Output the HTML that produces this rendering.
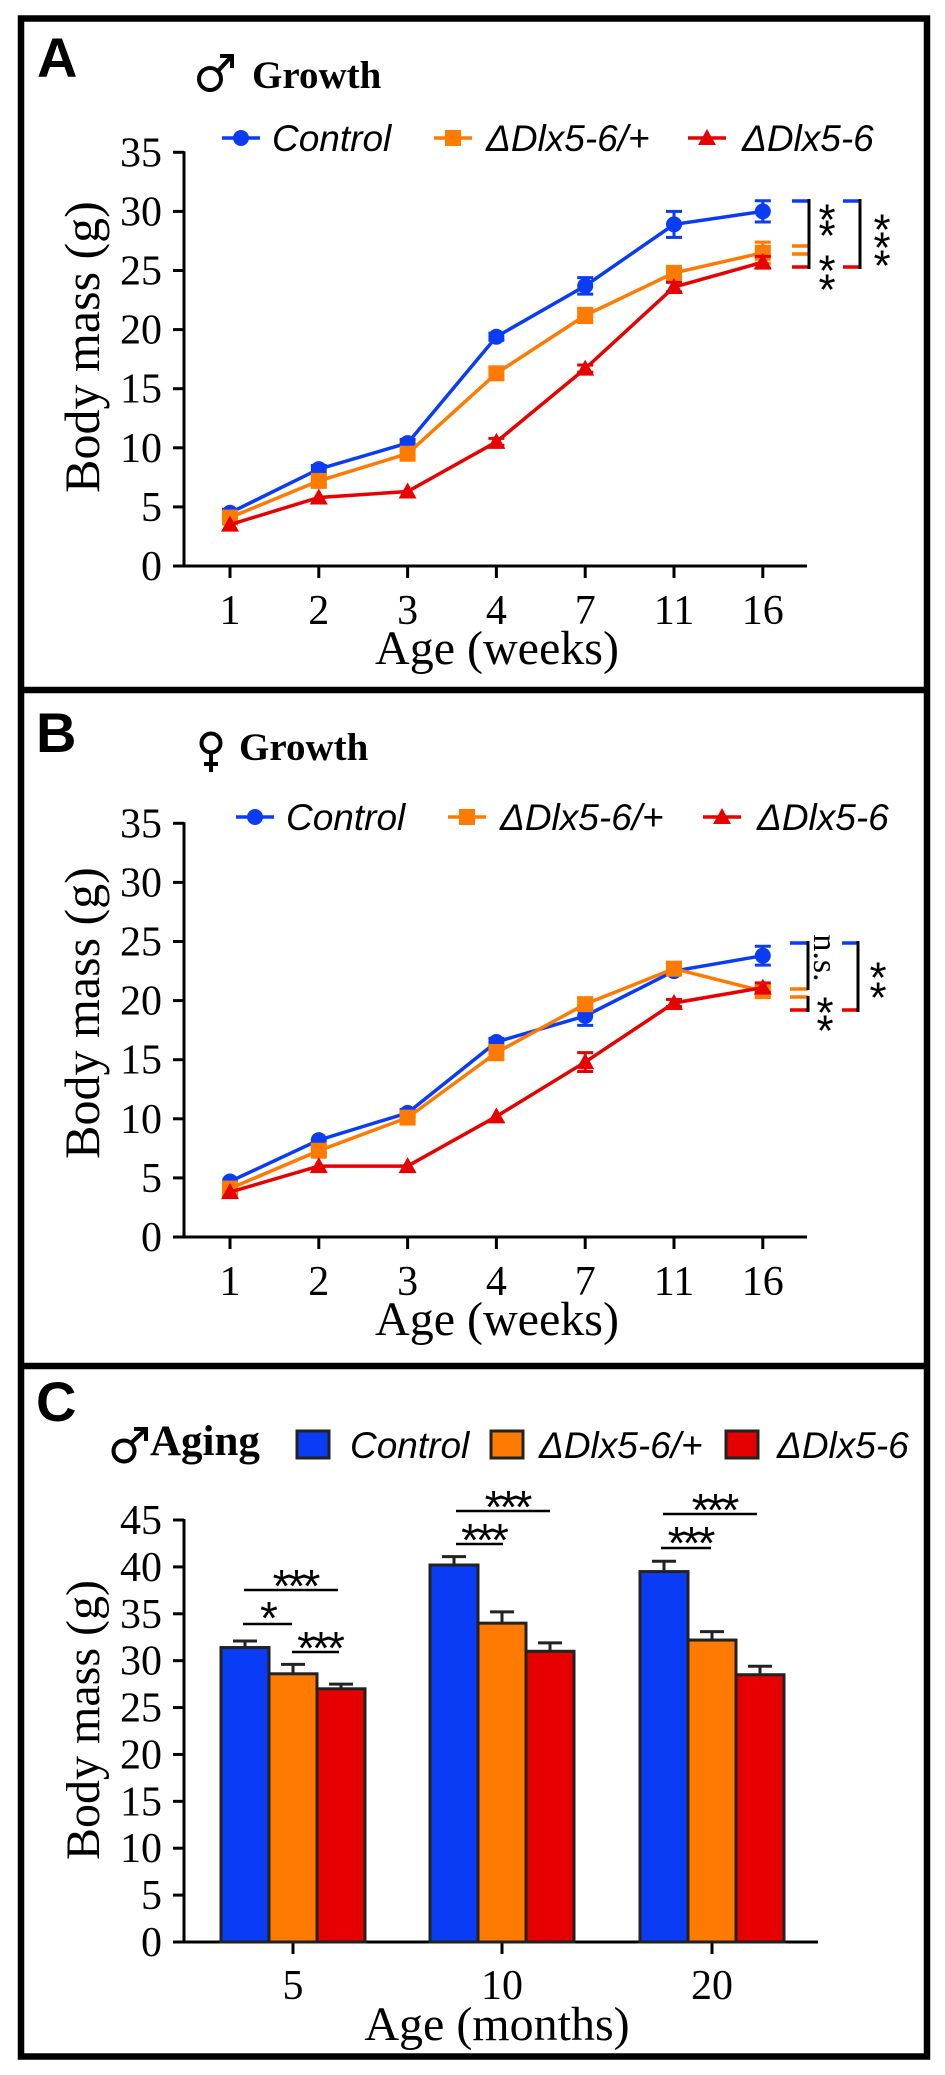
<!DOCTYPE html>
<html><head><meta charset="utf-8"><style>
html,body{margin:0;padding:0;background:#fff;}
svg{display:block;}
.serif{font-family:"Liberation Serif",serif;}
.sans{font-family:"Liberation Sans",sans-serif;}
</style></head><body>
<svg id="fig" width="945" height="2075" viewBox="0 0 945 2075" xmlns="http://www.w3.org/2000/svg">
<rect x="0" y="0" width="945" height="2075" fill="#fff"/>
<g id="frame">
<rect x="21" y="18.5" width="906" height="2038" fill="none" stroke="#000" stroke-width="6.5"/>
<line x1="21" y1="690" x2="927" y2="690" stroke="#000" stroke-width="6.5"/>
<line x1="21" y1="1366" x2="927" y2="1366" stroke="#000" stroke-width="6.5"/>
</g>
<g id="pA"></g>
<g id="pB"></g>
<g id="pC"></g>
</svg>
<script>
// ---- data ----
const weekLabels = ["1","2","3","4","7","11","16"];
const aControl = [4.5, 8.2, 10.4, 19.4, 23.7, 28.9, 30.0];
const aControlErr = [0.3, 0.3, 0.3, 0.3, 0.7, 1.1, 0.9];
const aHet = [4.1, 7.2, 9.5, 16.3, 21.2, 24.8, 26.5];
const aHetErr = [0.3, 0.3, 0.3, 0.5, 0.6, 0.5, 0.9];
const aHomo = [3.5, 5.8, 6.3, 10.5, 16.7, 23.6, 25.7];
const aHomoErr = [0.2, 0.2, 0.2, 0.3, 0.3, 0.4, 0.5];
const bControl = [4.7, 8.2, 10.5, 16.5, 18.7, 22.5, 23.8];
const bControlErr = [0.2, 0.2, 0.3, 0.3, 0.8, 0.3, 0.8];
const bHet = [4.1, 7.3, 10.1, 15.6, 19.7, 22.7, 20.8];
const bHetErr = [0.3, 0.3, 0.3, 0.6, 0.5, 0.4, 0.4];
const bHomo = [3.8, 6.0, 6.0, 10.2, 14.8, 19.8, 21.1];
const bHomoErr = [0.2, 0.2, 0.2, 0.2, 0.8, 0.3, 0.4];
const lineTicks = [0,5,10,15,20,25,30,35];
const monthLabels = ["5","10","20"];
const cControl = [31.4, 40.2, 39.5];
const cControlErr = [0.7, 0.9, 1.1];
const cHet = [28.6, 34.0, 32.2];
const cHetErr = [1.0, 1.2, 0.9];
const cHomo = [27.0, 31.0, 28.5];
const cHomoErr = [0.5, 0.9, 0.9];
const barTicks = [0,5,10,15,20,25,30,35,40,45];
const seriesNames = ["Control","\u0394Dlx5-6/+","\u0394Dlx5-6"];

const NS="http://www.w3.org/2000/svg";
const BLUE="#0b3cf5", ORANGE="#ff7a00", RED="#e60000";
function mk(parent,tag,attrs){const e=document.createElementNS(NS,tag);for(const k in attrs)e.setAttribute(k,attrs[k]);parent.appendChild(e);return e;}
function txt(parent,x,y,s,size,cls,extra){const e=mk(parent,"text",Object.assign({x:x,y:y,"font-size":size,class:cls,fill:"#000"},extra||{}));e.textContent=s;return e;}

function lineCx(i){return 230+i*88.8;}
function drawLinePanel(g,y0,title,female,series,legendXs,legendY,brackets){
  const yv=v=>y0-v*59.1/5;
  const t=txt(g,female?239:252,female?760:88,"Growth",39,"serif",{"font-weight":"bold"});
  
  
  const sym=mk(g,"g",{stroke:"#000","stroke-width":4,fill:"none"});
  
  
  if(female){mk(sym,"circle",{cx:211,cy:743,r:9.5});mk(sym,"line",{x1:211,y1:753,x2:211,y2:772});mk(sym,"line",{x1:204,y1:764,x2:218,y2:764});}
  else{mk(sym,"circle",{cx:210,cy:79,r:11});mk(sym,"line",{x1:218,y1:71,x2:231,y2:57});mk(sym,"polyline",{points:"220,56 232,56 232,68"});}
  const ax=mk(g,"g",{stroke:"#000","stroke-width":3,fill:"none"});
  
  
  mk(ax,"line",{x1:184,y1:yv(35)-1,x2:184,y2:yv(0)+1.5});
  mk(ax,"line",{x1:175,y1:yv(0),x2:807,y2:yv(0)});
  lineTicks.forEach(v=>{
    mk(ax,"line",{x1:173,y1:yv(v),x2:184,y2:yv(v)});
    const l=txt(g,162,yv(v)+14,String(v),42,"serif",{"text-anchor":"end"});
    
    
  });
  weekLabels.forEach((s,i)=>{
    mk(ax,"line",{x1:lineCx(i),y1:yv(0),x2:lineCx(i),y2:yv(0)+12});
    const l=txt(g,lineCx(i),yv(0)+58,s,42,"serif",{"text-anchor":"middle"});
    
    
  });
  const xt=txt(g,497,yv(0)+98,"Age (weeks)",48,"serif",{"text-anchor":"middle"});
  
  
  const yc=yv(0)-(female?224:219);
  const yt=txt(g,0,0,"Body mass (g)",50,"serif",{"text-anchor":"middle",transform:`translate(99,${yc}) rotate(-90)`});
  
  
  const cols=[BLUE,ORANGE,RED];
  series.forEach((s,k)=>{
    const sg=mk(g,"g",{});
    
    
    const pts=s.vals.map((v,i)=>lineCx(i)+","+yv(v)).join(" ");
    mk(sg,"polyline",{points:pts,fill:"none",stroke:cols[k],"stroke-width":3.5});
    s.vals.forEach((v,i)=>{
      const x=lineCx(i),y=yv(v),e=s.err[i]*59.1/5;
      if(e>3){mk(sg,"line",{x1:x,y1:y-e,x2:x,y2:y+e,stroke:cols[k],"stroke-width":3});
        mk(sg,"line",{x1:x-8,y1:y-e,x2:x+8,y2:y-e,stroke:cols[k],"stroke-width":3});
        mk(sg,"line",{x1:x-8,y1:y+e,x2:x+8,y2:y+e,stroke:cols[k],"stroke-width":3});}
      let m;
      if(k==0)m=mk(sg,"circle",{cx:x,cy:y,r:8,fill:cols[k]});
      else if(k==1)m=mk(sg,"rect",{x:x-8,y:y-8,width:16,height:16,fill:cols[k]});
      else m=mk(sg,"polygon",{points:`${x},${y-9} ${x+9},${y+7} ${x-9},${y+7}`,fill:cols[k]});
      
      
    });
  });
  legendXs.forEach((lx,k)=>{
    const lg=mk(g,"g",{});
    
    
    mk(lg,"line",{x1:lx,y1:legendY,x2:lx+38,y2:legendY,stroke:cols[k],"stroke-width":3.5});
    const cx=lx+19;
    if(k==0)mk(lg,"circle",{cx:cx,cy:legendY,r:8,fill:cols[k]});
    else if(k==1)mk(lg,"rect",{x:cx-8,y:legendY-8,width:16,height:16,fill:cols[k]});
    else mk(lg,"polygon",{points:`${cx},${legendY-9} ${cx+9},${legendY+7} ${cx-9},${legendY+7}`,fill:cols[k]});
    txt(lg,lx+[50,52,54][k],legendY+13,seriesNames[k],37,"sans",{"font-style":"italic"});
  });
  brackets(g);
}
function star(g,x,cy,fs){const e=txt(g,x,cy+0.62*fs,"*",fs,"sans",{"text-anchor":"middle"});return e;}
function dash(g,x1,x2,y,c){mk(g,"line",{x1:x1,y1:y,x2:x2,y2:y,stroke:c,"stroke-width":3.5});}

const gA=document.getElementById("pA");
const A=txt(gA,37,77,"A",56,"sans",{"font-weight":"bold"});


drawLinePanel(gA,566,"Growth",false,
  [{vals:aControl,err:aControlErr},{vals:aHet,err:aHetErr},{vals:aHomo,err:aHomoErr}],
  [222,434,688],138,
  g=>{const b=mk(g,"g",{});
    
    
    dash(b,792,809,201,BLUE);dash(b,792,809,246,ORANGE);dash(b,792,809,254,ORANGE);dash(b,792,809,267,RED);
    mk(b,"line",{x1:809,y1:199,x2:809,y2:269,stroke:"#000","stroke-width":3});
    dash(b,843,860,201,BLUE);dash(b,843,860,267,RED);
    mk(b,"line",{x1:860,y1:199,x2:860,y2:269,stroke:"#000","stroke-width":3});
    [207,223,258,277].forEach(y=>star(b,827,y,44));
    [217,235,253].forEach(y=>star(b,882,y,44));
  });

const gB=document.getElementById("pB");
const B=txt(gB,36,752,"B",56,"sans",{"font-weight":"bold"});


drawLinePanel(gB,1237,"Growth",true,
  [{vals:bControl,err:bControlErr},{vals:bHet,err:bHetErr},{vals:bHomo,err:bHomoErr}],
  [236,448,703],817,
  g=>{const b=mk(g,"g",{});
    
    
    dash(b,790,808,943,BLUE);dash(b,790,808,989,ORANGE);dash(b,790,808,997,ORANGE);dash(b,790,808,1010,RED);
    mk(b,"line",{x1:808,y1:941,x2:808,y2:990,stroke:"#000","stroke-width":3});
    mk(b,"line",{x1:808,y1:996,x2:808,y2:1012,stroke:"#000","stroke-width":3});
    dash(b,842,858,943,BLUE);dash(b,842,858,1010,RED);
    mk(b,"line",{x1:858,y1:941,x2:858,y2:1012,stroke:"#000","stroke-width":3});
    const ns=txt(b,0,0,"n.s.",34,"serif",{"text-anchor":"middle",transform:"translate(814,958) rotate(90)"});
    
    
    [1000,1018].forEach(y=>star(b,825,y,44));
    [965,985].forEach(y=>star(b,878,y,44));
  });

// ---- Panel C ----
const gC=document.getElementById("pC");
const yC=v=>1942-v*422/45;
const gx=i=>[293,502,712][i];
const BW=48;
const C=txt(gC,36,1421,"C",56,"sans",{"font-weight":"bold"});


const msym=mk(gC,"g",{stroke:"#000","stroke-width":4,fill:"none"});


mk(msym,"circle",{cx:124,cy:1451,r:10.5});mk(msym,"line",{x1:131,y1:1443,x2:145,y2:1430});mk(msym,"polyline",{points:"134,1429 146,1429 146,1441"});
const ct=txt(gC,150,1455,"Aging",43,"serif",{"font-weight":"bold"});


const ccols=[BLUE,ORANGE,RED];
[[297,350],[491,539],[726,777]].forEach((p,k)=>{
  const lg=mk(gC,"g",{});
  
  
  mk(lg,"rect",{x:p[0],y:1431,width:32,height:27,fill:ccols[k],stroke:"#222","stroke-width":3});
  txt(lg,p[1],1458,seriesNames[k],37,"sans",{"font-style":"italic"});
});
const cax=mk(gC,"g",{stroke:"#000","stroke-width":3,fill:"none"});


mk(cax,"line",{x1:184,y1:yC(45)-1,x2:184,y2:yC(0)+1.5});
mk(cax,"line",{x1:175,y1:yC(0),x2:818,y2:yC(0)});
barTicks.forEach(v=>{
  mk(cax,"line",{x1:173,y1:yC(v),x2:184,y2:yC(v)});
  const l=txt(gC,162,yC(v)+14,String(v),42,"serif",{"text-anchor":"end"});
  
  
});
monthLabels.forEach((s,i)=>{
  mk(cax,"line",{x1:gx(i),y1:yC(0),x2:gx(i),y2:yC(0)+12});
  const l=txt(gC,gx(i),1999,s,42,"serif",{"text-anchor":"middle"});
  
  
});
const cxt=txt(gC,497,2040,"Age (months)",48,"serif",{"text-anchor":"middle"});


const cyt=txt(gC,0,0,"Body mass (g)",48,"serif",{"text-anchor":"middle",transform:"translate(99,1720) rotate(-90)"});


[[cControl,cControlErr],[cHet,cHetErr],[cHomo,cHomoErr]].forEach((s,k)=>{
  s[0].forEach((v,i)=>{
    const x=gx(i)+(k-1)*BW-BW/2;
    const bg=mk(gC,"g",{});
    
    
    const top=yC(v),et=yC(v+s[1][i]);
    mk(bg,"line",{x1:x+BW/2,y1:top,x2:x+BW/2,y2:et,stroke:"#222","stroke-width":3});
    mk(bg,"line",{x1:x+BW/2-12,y1:et,x2:x+BW/2+12,y2:et,stroke:"#222","stroke-width":3});
    mk(bg,"rect",{x:x,y:top,width:BW,height:yC(0)-top,fill:ccols[k],stroke:"#222","stroke-width":3});
  });
});
function sigLine(x1,x2,y,label,sy){
  const sg=mk(gC,"g",{});
  
  
  mk(sg,"line",{x1:x1,y1:y,x2:x2,y2:y,stroke:"#000","stroke-width":2.5});
  txt(sg,(x1+x2)/2+ (label.length==3?4:0),sy+29,label,46,"sans",{"text-anchor":"middle","letter-spacing":"-3"});
}
sigLine(244,338,1590,"***",1573);
sigLine(243,292,1624,"*",1605);
sigLine(292,339,1652,"***",1635);
sigLine(456,550,1511,"***",1494);
sigLine(456,503,1544,"***",1527);
sigLine(663,757,1514,"***",1497);
sigLine(661,711,1548,"***",1530);
</script>
</body></html>
